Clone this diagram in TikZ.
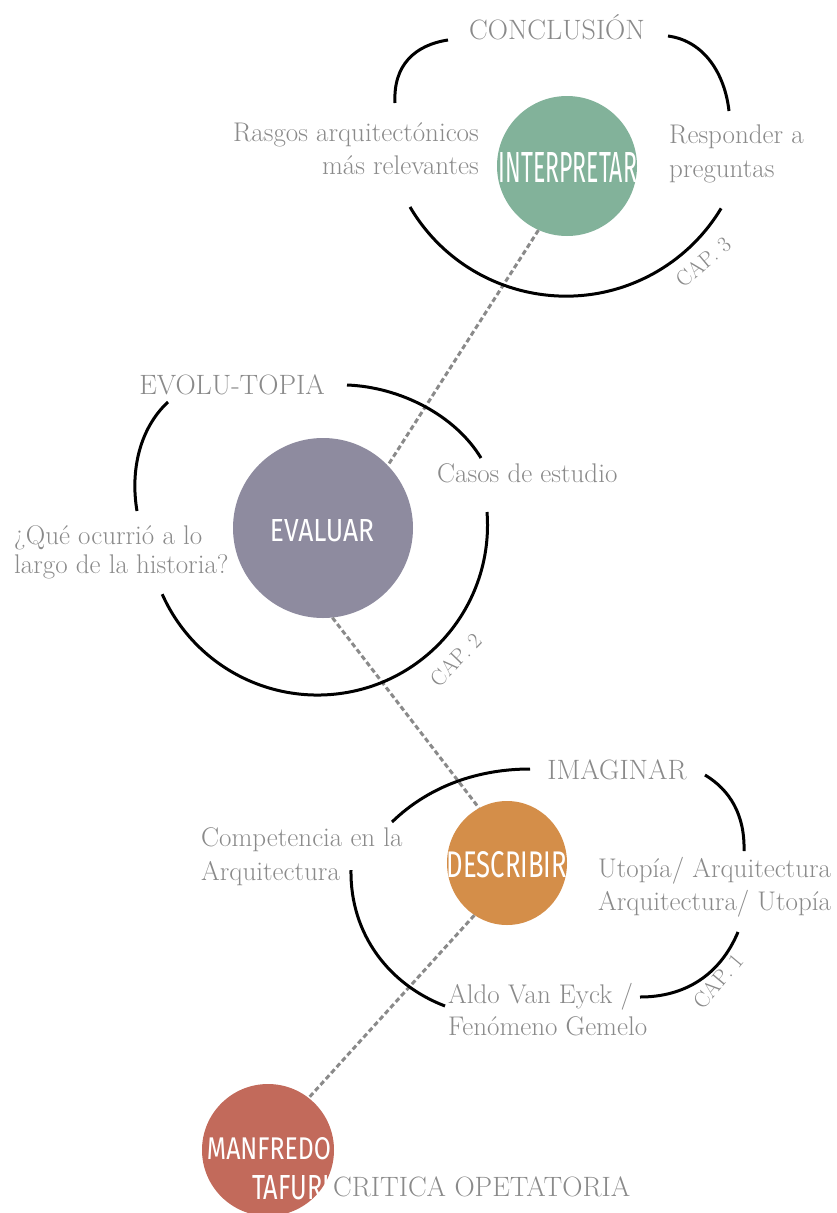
\documentclass[tikz,border=0pt]{standalone}
\usepackage{fontspec}
\usetikzlibrary{shapes.geometric}
\newfontfamily\hand{Fira Sans}
\definecolor{cgreen}{HTML}{82B29A}
\definecolor{cpurple}{HTML}{8E8B9F}
\definecolor{corange}{HTML}{D48E49}
\definecolor{cred}{HTML}{C26A5B}
\definecolor{txtgray}{HTML}{8A8A8A}
\definecolor{dashgray}{HTML}{8A8A8A}
\begin{document}
\begin{tikzpicture}[x=1pt,y=-1pt,
  arcline/.style={line width=3pt, black},
  lbl/.style={text=txtgray, font=\fontsize{27}{33}\selectfont, inner sep=0pt},
  ttl/.style={text=txtgray, font=\fontsize{28}{30}\selectfont, inner sep=0pt},
  caplbl/.style={text=txtgray, font=\fontsize{22}{24}\selectfont, inner sep=0pt},
  hub/.style={circle, inner sep=0pt},
  hubtxt/.style={text=white, font=\hand, inner sep=0pt},
  conn/.style={draw=dashgray, line width=3pt, dash pattern=on 5pt off 3pt}]
\useasboundingbox (0,0) rectangle (836,1213);

% hubs
\node[hub, fill=cgreen, minimum size=140pt] (g) at (567,166) {};
\node[hub, fill=cpurple, minimum size=180pt] (e) at (323,528) {};
\node[ellipse, inner sep=0pt, fill=corange, minimum width=120pt, minimum height=124pt] (d) at (507,863) {};
\node[hub, fill=cred, minimum size=132pt] (m) at (268,1150) {};

\node[hubtxt] (gt) at (568,167) {\resizebox{138pt}{30pt}{INTERPRETAR}};
\node[hubtxt] (et) at (322,531) {\resizebox{104pt}{22pt}{EVALUAR}};
\node[hubtxt] (dt) at (507,865) {\resizebox{120pt}{26pt}{DESCRIBIR}};
\node[hubtxt] (mt1) at (269,1149) {\resizebox{124pt}{22pt}{MANFREDO}};
\node[hubtxt] (mt2) at (291,1188) {\resizebox{78pt}{24pt}{TAFURI}};

% connectors
\draw[conn] (g.246) -- (e.44);
\draw[conn] (e.276) -- (d.117);
\draw[conn] (d.238) -- (m.52);

% top cluster
\draw[arcline] (395,103) .. controls (393,65) and (415,45) .. (448,40);
\draw[arcline] (668,36) .. controls (705,41) and (725,75) .. (729,111);
\draw[arcline] (410,207) arc[start angle=149.5, end angle=31, radius=181];
\node[ttl] (t1) at (557,27) {CONCLUSIÓN};
\node[lbl, align=right, anchor=east] (t2) at (479,149) {Rasgos arquitectónicos\\más relevantes};
\node[lbl, align=left, anchor=west, font=\fontsize{27}{34}\selectfont] (t3) at (669,154) {Responder a\\preguntas};
\node[caplbl, rotate=40] (t4) at (703,262) {CAP. 3};

% middle cluster
\draw[arcline] (137,511) .. controls (130,470) and (140,428) .. (168,402);
\draw[arcline] (347,385) .. controls (400,387) and (455,415) .. (481,458);
\draw[arcline] (487,512) arc[start angle=-4.4, end angle=156, radius=170];
\node[ttl] (m1) at (232,385) {EVOLU-TOPIA};
\node[lbl, anchor=west] (m2) at (437,473) {Casos de estudio};
\node[lbl, align=left, anchor=west, font=\fontsize{27}{29}\selectfont] (m3) at (14,552) {¿Qué ocurrió a lo\\largo de la historia?};
\node[caplbl, rotate=46] (m4) at (456,660) {CAP. 2};

% bottom cluster
\draw[arcline] (392,822) .. controls (430,785) and (480,769) .. (530,769);
\draw[arcline] (705,775) .. controls (730,790) and (745,815) .. (744,851);
\draw[arcline] (738,932) .. controls (720,975) and (685,997) .. (640,997);
\draw[arcline] (351,870) .. controls (350,935) and (390,985) .. (445,1006);
\node[ttl] (b1) at (617,770) {IMAGINAR};
\node[lbl, align=left, anchor=west, font=\fontsize{27}{34}\selectfont] (b2) at (201,857) {Competencia en la\\Arquitectura};
\node[lbl, align=left, anchor=west] (b3) at (598,887) {Utopía/ Arquitectura\\Arquitectura/ Utopía};
\node[lbl, align=left, anchor=west, font=\fontsize{27}{32}\selectfont] (b4) at (448,1010) {Aldo Van Eyck /\\Fenómeno Gemelo};
\node[caplbl, rotate=50] (b5) at (718,981) {CAP. 1};

\node[ttl, anchor=west] (c1) at (333,1187) {CRITICA OPETATORIA};
\end{tikzpicture}
\end{document}
